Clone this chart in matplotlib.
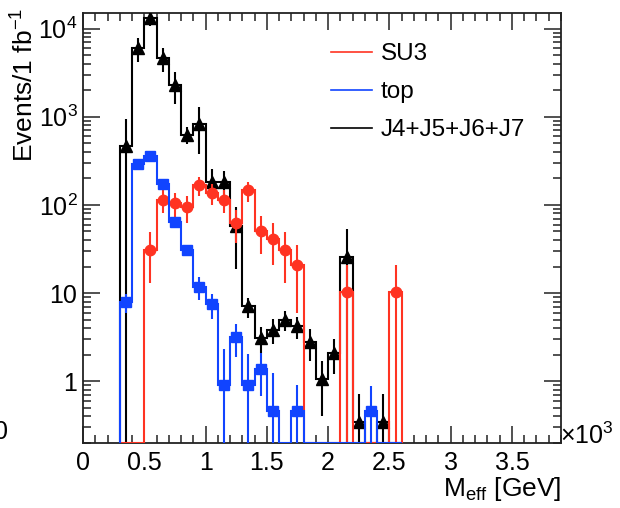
import numpy as np
import matplotlib
matplotlib.use("Agg")
import matplotlib.pyplot as plt
from matplotlib.ticker import FixedLocator, LogLocator, NullFormatter, MultipleLocator
from matplotlib.lines import Line2D

plt.rcParams['font.family'] = ['Liberation Sans', 'DejaVu Sans']
plt.rcParams['mathtext.fontset'] = 'custom'
plt.rcParams['mathtext.rm'] = 'Liberation Sans'
plt.rcParams['mathtext.it'] = 'Liberation Sans:italic'

# ---- data (bins of 100 GeV from 300 to 2600 GeV) ----
bin_edges_gev = [300, 400, 500, 600, 700, 800, 900, 1000, 1100, 1200, 1300, 1400,
                 1500, 1600, 1700, 1800, 1900, 2000, 2100, 2200, 2300, 2400, 2500, 2600]

su3 = [0, 0, 31, 115, 104, 94, 168, 136, 114, 62, 146, 51, 41.3, 31, 20.6,
       0, 0, 0, 10.3, 0, 0, 0, 10.3]
su3_err = [0, 0, 17.8, 34, 32, 31, 41, 37, 34, 25, 38, 23, 20.6, 17.8, 14.6,
           0, 0, 0, 10.3, 0, 0, 0, 10.3]

top = [7.9, 292, 356, 173, 63.7, 31, 11.7, 7.45, 0.92, 3.18, 0.92, 1.38, 0.46,
       0, 0.46, 0, 0, 0, 0, 0, 0.46, 0, 0]
top_err = [1.9, 12, 13, 9, 5.5, 4, 3.4, 2.3, 1.4, 1.3, 1.1, 0.7, 0.78,
           0, 0.44, 0, 0, 0, 0, 0, 0.42, 0, 0]

qcd = [471, 6010, 13150, 4580, 2310, 627, 829, 184, 184, 57, 7.07, 3.13, 3.85,
       5.0, 4.23, 2.82, 1.06, 2.1, 26, 0.35, 0, 0.35, 0]
qcd_err = [480, 1800, 2500, 1400, 900, 130, 450, 70, 60, 38, 1.8, 1.05, 1.2,
           1.3, 1.2, 1.1, 0.65, 0.9, 28, 0.36, 0, 0.36, 0]

series_labels = ["SU3", "top", "J4+J5+J6+J7"]
x_tick_values = [0, 0.5, 1, 1.5, 2, 2.5, 3, 3.5]
x_tick_labels = ["0", "0.5", "1", "1.5", "2", "2.5", "3", "3.5"]
y_tick_values = [1, 10, 100, 1000, 10000]
y_tick_labels = ["1", "10", r"$10^{2}$", r"$10^{3}$", r"$10^{4}$"]

# ---- figure ----
W, H = 620, 508
fig = plt.figure(figsize=(W / 100, H / 100), dpi=100)
ax = fig.add_axes([83 / W, 1 - 443 / H, (561 - 83) / W, (443 - 13) / H])
ax.set_yscale('log')
YMIN, YMAX = 0.2, 15000
ax.set_xlim(0, 3.9)
ax.set_ylim(YMIN, YMAX)

edges = np.array(bin_edges_gev) / 1000.0
centers = 0.5 * (edges[:-1] + edges[1:])

red = '#ff3322'
blue = '#1144ff'
black = '#000000'

def draw(vals, errs, color, marker, ms, label, z):
    v = np.array(vals, float)
    e = np.array(errs, float)
    ax.stairs(np.maximum(v, YMIN), edges, baseline=YMIN, color=color, lw=1.5,
              zorder=z, label=label)
    m = v > 0
    lo = np.where(v - e > 0, e, v - 1e-4)
    ax.errorbar(centers[m], v[m], yerr=[lo[m], e[m]], fmt=marker, color=color,
                ms=ms, elinewidth=1.5, capsize=0, zorder=z + 0.5)

draw(qcd, qcd_err, black, '^', 8.5, series_labels[2], 3)
draw(su3, su3_err, red, 'o', 7.5, series_labels[0], 4)
draw(top, top_err, blue, 's', 7.5, series_labels[1], 5)

# ticks
ax.xaxis.set_major_locator(FixedLocator(x_tick_values))
ax.set_xticklabels(x_tick_labels)
ax.xaxis.set_minor_locator(MultipleLocator(0.1))
ax.yaxis.set_major_locator(FixedLocator(y_tick_values))
ax.set_yticklabels(y_tick_labels)
ax.yaxis.set_minor_locator(LogLocator(base=10, subs=np.arange(2, 10)))
ax.yaxis.set_minor_formatter(NullFormatter())
ax.tick_params(which='both', direction='in', top=True, right=True,
               labelsize=18, colors='#222222', labelcolor='black')
ax.tick_params(which='major', length=12, width=1.1)
ax.tick_params(which='minor', length=6, width=1.1)
ax.tick_params(axis='x', pad=6)
ax.tick_params(axis='y', pad=4)
for s in ax.spines.values():
    s.set_linewidth(1.3)
    s.set_color('#222222')

# legend (lines only)
handles = [Line2D([], [], color=red, lw=1.2),
           Line2D([], [], color=blue, lw=1.2),
           Line2D([], [], color=black, lw=1.2)]
ax.legend(handles, series_labels, loc='upper left', bbox_to_anchor=(0.473, 0.98),
          frameon=False, fontsize=17.5, handlelength=1.7, labelspacing=0.65,
          handletextpad=0.35)

# axis titles
fig.text(25 / W, 1 - 8 / H, r"Events/1 fb$^{-1}$", rotation=90, ha='center',
         va='top', fontsize=19)
fig.text(561 / W, 1 - 503 / H, r"M$_{\mathrm{eff}}$ [GeV]", ha='right',
         va='bottom', fontsize=19)
fig.text(560 / W, 1 - 436 / H, r"$\times10^{3}$", ha='left', va='center',
         fontsize=18)
fig.text(1 / W, 1 - 432 / H, "0", ha='center', va='center', fontsize=18)

fig.savefig("out.png", dpi=100)
